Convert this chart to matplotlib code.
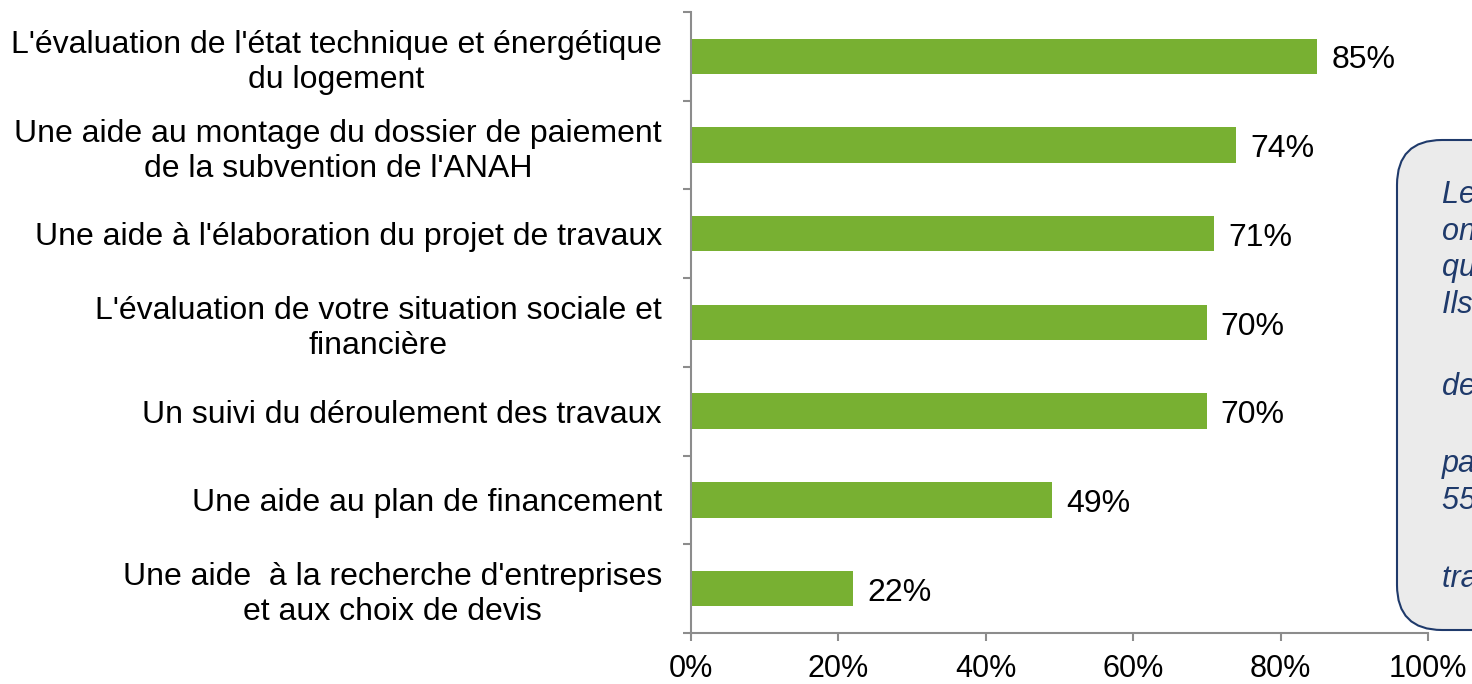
import matplotlib
matplotlib.use("Agg")
import matplotlib.pyplot as plt
from matplotlib.patches import FancyBboxPatch

plt.rcParams['font.family'] = ['Liberation Sans', 'DejaVu Sans']

categories = [
    "L'évaluation de l'état technique et énergétique\ndu logement",
    "Une aide au montage du dossier de paiement\nde la subvention de l'ANAH",
    "Une aide à l'élaboration du projet de travaux",
    "L'évaluation de votre situation sociale et\nfinancière",
    "Un suivi du déroulement des travaux",
    "Une aide au plan de financement",
    "Une aide  à la recherche d'entreprises\net aux choix de devis",
]
values = [85, 74, 71, 70, 70, 49, 22]
x_ticks = [0, 20, 40, 60, 80, 100]
# side note paragraphs (cut off by the right edge in the original)
note_paragraphs = [
    "Les bénéficiaires\nont été nombreux à\nqualifier l'aide reçue.\nIls la jugent utile",
    "de façon générale,",
    "parmi lesquels\n55% des ménages",
    "travaux achevés",
]
note_tops = [180, 372, 449, 564]   # pixels from top

bar_color = "#78B032"
axis_color = "#8c8c8c"
note_color = "#1f3a6b"

fig = plt.figure(figsize=(14.72, 6.84), dpi=100)
ax = fig.add_axes([0.4694, 0.0746, 0.5007, 0.9079])

ypos = list(range(len(categories)))
ax.barh(ypos, values, height=0.4, color=bar_color)
for y, v in zip(ypos, values):
    ax.annotate(f"{v}%", (v, y), xytext=(10, -3), textcoords="offset points",
                va="center", ha="left", fontsize=23)

ax.set_xlim(0, 100)
ax.set_ylim(len(categories) - 0.5, -0.5)
ax.set_xticks(x_ticks)
ax.set_xticklabels([f"{t}%" for t in x_ticks], fontsize=22)
ax.set_yticks(ypos)
ax.set_yticklabels(categories, fontsize=23, ha="right", multialignment="center",
                   linespacing=1.22)
ax.set_yticks([i - 0.5 for i in range(len(categories) + 1)], minor=True)
ax.tick_params(axis="y", which="major", length=0, pad=21)
ax.tick_params(axis="y", which="minor", length=6, color=axis_color, width=1.5)
ax.tick_params(axis="x", length=6, color=axis_color, width=1.5, pad=9)
for s in ["top", "right"]:
    ax.spines[s].set_visible(False)
for s in ["left", "bottom"]:
    ax.spines[s].set_color(axis_color)
    ax.spines[s].set_linewidth(1.5)

box = FancyBboxPatch((13.97, 0.54), 3.0, 4.9, boxstyle="round,pad=0,rounding_size=0.45",
                     transform=fig.dpi_scale_trans, facecolor="#ebebeb",
                     edgecolor=note_color, linewidth=1.5)
fig.patches.append(box)
for para, top in zip(note_paragraphs, note_tops):
    fig.text(1442 / 1472, 1 - top / 684, para, fontsize=22, style="italic",
             color=note_color, va="top", ha="left", linespacing=1.29)

fig.savefig("out.png", dpi=100)
